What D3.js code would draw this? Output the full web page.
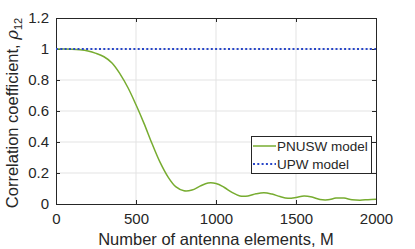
<!DOCTYPE html>
<html><head><meta charset="utf-8">
<script src="https://cdn.jsdelivr.net/npm/d3@7"></script>
<style>body{margin:0;background:#fff}svg{display:block}text{font-family:"Liberation Sans",Arial,sans-serif;fill:#262626}</style>
</head><body>
<svg id="c" width="415" height="249"></svg>
<script>
const M = [0,50,100,150,200,250,300,350,400,450,500,550,600,650,700,750,800,850,900,950,1000,1050,1100,1150,1200,1250,1300,1350,1400,1450,1500,1550,1600,1650,1700,1750,1800,1850,1900,1950,2000];
const pnusw = [1,1,0.999,0.995,0.987,0.972,0.95,0.91,0.84,0.75,0.64,0.52,0.39,0.27,0.175,0.11,0.085,0.09,0.115,0.135,0.132,0.108,0.075,0.052,0.052,0.066,0.073,0.064,0.048,0.037,0.042,0.052,0.045,0.029,0.027,0.038,0.038,0.028,0.025,0.028,0.031];
const upw = M.map(()=>1);
const xTicks = [0,500,1000,1500,2000];
const yTicks = [0,0.2,0.4,0.6,0.8,1,1.2];
const yTickLabels = ["0","0.2","0.4","0.6","0.8","1","1.2"];
const seriesNames = ["PNUSW model","UPW model"];

const svg = d3.select("#c");
const L=56,R=376,T=18,B=204;
const x = d3.scaleLinear().domain([0,2000]).range([L,R]);
const y = d3.scaleLinear().domain([0,1.2]).range([B,T]);
const axisCol="#262626";

// grid
svg.append("g").selectAll("line").data(xTicks.slice(1,-1)).join("line")
  .attr("x1",d=>x(d)).attr("x2",d=>x(d)).attr("y1",T).attr("y2",B)
  .attr("stroke","#e3e3e3").attr("stroke-width",1);
svg.append("g").selectAll("line").data(yTicks.slice(1,-1)).join("line")
  .attr("y1",d=>y(d)).attr("y2",d=>y(d)).attr("x1",L).attr("x2",R)
  .attr("stroke","#e3e3e3").attr("stroke-width",1);

// axes
const xa = svg.append("g").attr("transform",`translate(0,${B})`)
  .call(d3.axisBottom(x).tickValues(xTicks).tickSize(-4).tickPadding(9).tickFormat(d3.format("d")));
const xt = svg.append("g").attr("transform",`translate(0,${T})`)
  .call(d3.axisTop(x).tickValues(xTicks).tickSize(-4).tickFormat(""));
const ya = svg.append("g").attr("transform",`translate(${L},0)`)
  .call(d3.axisLeft(y).tickValues(yTicks).tickSize(-4).tickPadding(7).tickFormat((d,i)=>yTickLabels[i]));
const yr = svg.append("g").attr("transform",`translate(${R},0)`)
  .call(d3.axisRight(y).tickValues(yTicks).tickSize(-4).tickFormat(""));
[xa,xt,ya,yr].forEach(g=>{
  g.select(".domain").attr("stroke",axisCol).attr("stroke-width",1);
  g.selectAll(".tick line").attr("stroke",axisCol);
  g.selectAll("text").attr("font-size",15).attr("font-family","Liberation Sans, Arial, sans-serif").attr("fill",axisCol);
});

// lines
const line = d3.line().x((d,i)=>x(M[i])).y(d=>y(d)).curve(d3.curveCatmullRom.alpha(0.5));
svg.append("path").datum(pnusw).attr("d",line).attr("fill","none")
  .attr("stroke","#77AC30").attr("stroke-width",1.5);
svg.append("path").datum(upw).attr("d",line).attr("fill","none")
  .attr("stroke","#2846c8").attr("stroke-width",2).attr("stroke-dasharray","2,2.3");

// labels
svg.append("text").attr("x",(L+R)/2).attr("y",245).attr("text-anchor","middle")
  .attr("font-size",16.5).text("Number of antenna elements, M");
const yl = svg.append("text").attr("transform",`translate(18,${(T+B)/2+2}) rotate(-90)`)
  .attr("text-anchor","middle").attr("font-size",16.5);
yl.append("tspan").text("Correlation coefficient, ");
yl.append("tspan").attr("font-style","italic").attr("font-family","DejaVu Serif, serif").text("ρ");
yl.append("tspan").attr("font-size",11).attr("dy",4).text("12");

// legend
const lg = svg.append("g");
lg.append("rect").attr("x",251.5).attr("y",136.5).attr("width",120).attr("height",37)
  .attr("fill","#fff").attr("stroke",axisCol).attr("stroke-width",1);
const rows=[{y:146,c:"#77AC30",w:1.5,dash:null},{y:164,c:"#2846c8",w:2,dash:"2,2.3"}];
rows.forEach((r,i)=>{
  lg.append("line").attr("x1",253).attr("x2",276).attr("y1",r.y).attr("y2",r.y)
    .attr("stroke",r.c).attr("stroke-width",r.w).attr("stroke-dasharray",r.dash);
  lg.append("text").attr("x",277).attr("y",r.y).attr("dy","0.36em").attr("font-size",13.5).text(seriesNames[i]);
});
</script>
</body></html>
